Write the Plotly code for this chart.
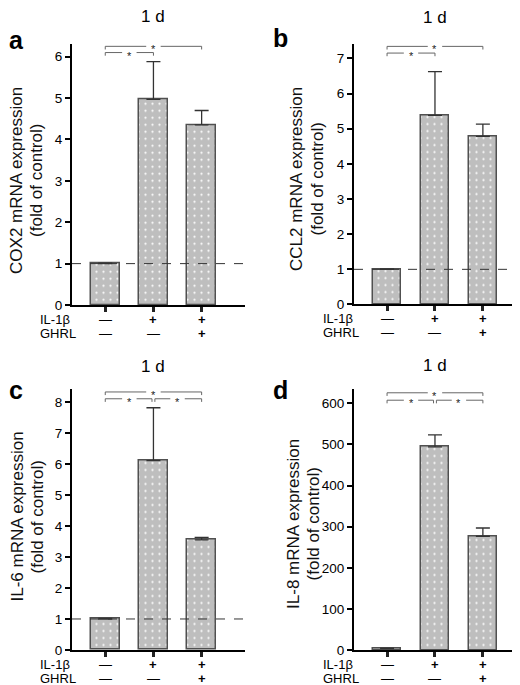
import plotly.graph_objects as go

# ---------------- data ----------------
categories = ["control", "IL-1β", "IL-1β + GHRL"]
il1b_signs = ["—", "+", "+"]
ghrl_signs = ["—", "—", "+"]

cox2_mean = [1.0, 4.97, 4.35]
cox2_err = [0.01, 0.91, 0.35]
ccl2_mean = [1.0, 5.38, 4.78]
ccl2_err = [0.01, 1.24, 0.35]
il6_mean = [1.0, 6.12, 3.56]
il6_err = [0.02, 1.71, 0.08]
il8_mean = [4.5, 494, 277]
il8_err = [1.0, 29, 20]

panel_letters = ["a", "b", "c", "d"]
panel_titles = ["1 d", "1 d", "1 d", "1 d"]
ylabels = ["COX2 mRNA expression", "CCL2 mRNA expression",
           "IL-6 mRNA expression", "IL-8 mRNA expression"]
ylabel2 = "(fold of control)"
ytick_vals = [list(range(0, 7)), list(range(0, 8)), list(range(0, 9)), list(range(0, 601, 100))]
brackets = [
    [(0, 2, 6.25), (0, 1, 6.10)],
    [(0, 2, 7.34), (0, 1, 7.15)],
    [(0, 2, 8.34), (0, 1, 8.12), (1, 2, 8.12)],
    [(0, 2, 625), (0, 1, 607), (1, 2, 607)],
]
show_ref_line = [True, True, True, False]

means = [cox2_mean, ccl2_mean, il6_mean, il8_mean]
errs = [cox2_err, ccl2_err, il6_err, il8_err]

# ---------------- layout geometry (pixels) ----------------
W, H = 520, 685
FONT = "Liberation Sans, Arial, sans-serif"
# (x_left, x_right, y_zero, y_top, y_max)
geom = [
    (64, 237, 300.5, 36.7, 6.3),
    (346, 518, 300.0, 36.0, 7.42),
    (64, 237, 649.5, 386.0, 8.42),
    (346, 518, 650.0, 386.0, 633),
]
# (x line1, x line2, y center) of the rotated label lines
ylabel_pos = [(9, 29, 175), (289, 309.5, 173), (9.5, 29.5, 515), (286, 305.5, 522)]
letter_pos = [(8, 32), (272, 30), (8, 387), (272, 387)]
title_y = [9, 10, 363, 362]
rowlab_x = [30, 313, 30, 313]

def px(x):
    return x / W

def py(y):
    return 1 - y / H

xpos = list(range(len(categories)))
fig = go.Figure()
shapes = []
annotations = []
layout = {}

for i in range(4):
    n = "" if i == 0 else str(i + 1)
    xl, xr, y0, yt, ymax = geom[i]
    xa, ya = "x" + n, "y" + n
    fig.add_trace(go.Bar(
        x=xpos, y=means[i], width=0.6,
        xaxis=xa, yaxis=ya,
        marker=dict(color="#bebebe",
                    line=dict(color="#505050", width=1.5),
                    pattern=dict(shape=".", fgcolor="white", bgcolor="#bebebe",
                                 size=7, solidity=0.08, fillmode="replace")),
        error_y=dict(type="data", symmetric=False, array=errs[i],
                     arrayminus=[0] * 3, color="#333333", thickness=1.3, width=7),
        showlegend=False, hoverinfo="skip",
    ))
    layout["xaxis" + n] = dict(
        domain=[px(xl), px(xr)], range=[-0.69, 2.9], anchor=ya,
        showline=True, linecolor="black", linewidth=2,
        ticks="outside", ticklen=5, tickwidth=2.5, tickcolor="#222",
        tickvals=xpos, showticklabels=False, showgrid=False, zeroline=False,
        fixedrange=True,
    )
    layout["yaxis" + n] = dict(
        domain=[py(y0), py(yt)], range=[0, ymax], anchor=xa,
        showline=True, linecolor="black", linewidth=2,
        ticks="outside", ticklen=5, tickwidth=1.5, tickcolor="black",
        tickvals=ytick_vals[i], tickfont=dict(family=FONT, size=13.5, color="black"),
        showgrid=False, zeroline=False, fixedrange=True,
    )
    # dashed reference line at y = 1
    if show_ref_line[i]:
        shapes.append(dict(type="line", xref=xa + " domain", yref=ya,
                           x0=0, x1=1, y0=1, y1=1,
                           line=dict(color="#333333", width=1, dash="dash")))
    # significance brackets
    drop = ymax * 0.012
    gap = 0.15
    for (b0, b1, lev) in brackets[i]:
        a0 = b0 + (0.03 if b0 == 1 else 0)
        a1 = b1 - (0.03 if (b1 == 1 and b0 == 0 and len(brackets[i]) == 3) else 0)
        mid = (b0 + b1) / 2
        col = "#666666"
        for seg in [(a0, mid - gap), (mid + gap, a1)]:
            shapes.append(dict(type="line", xref=xa, yref=ya, x0=seg[0], x1=seg[1],
                               y0=lev, y1=lev, line=dict(color=col, width=1)))
        for e in (a0, a1):
            shapes.append(dict(type="line", xref=xa, yref=ya, x0=e, x1=e,
                               y0=lev, y1=lev - drop, line=dict(color=col, width=1)))
        annotations.append(dict(x=mid, y=lev, xref=xa, yref=ya, text="*",
                                showarrow=False, yshift=-3,
                                font=dict(family=FONT, size=11, color="#222")))
    # title
    annotations.append(dict(x=1, xref=xa, y=py(title_y[i]), yref="paper",
                            text=panel_titles[i], showarrow=False, yanchor="middle",
                            font=dict(family=FONT, size=17, color="black")))
    # panel letter
    lx, ly = letter_pos[i]
    annotations.append(dict(x=px(lx), y=py(ly), xref="paper", yref="paper",
                            text="<b>" + panel_letters[i] + "</b>", showarrow=False,
                            xanchor="center", yanchor="middle",
                            font=dict(family=FONT, size=25, color="black")))
    # y label (two single-line rotated annotations)
    l1x, l2x, ty = ylabel_pos[i]
    for txt, lxp in [(ylabels[i], l1x), (ylabel2, l2x)]:
        annotations.append(dict(x=px(lxp), y=py(ty), xref="paper", yref="paper",
                                text=txt, textangle=-90,
                                showarrow=False, xanchor="center", yanchor="middle",
                                borderpad=0,
                                font=dict(family=FONT, size=17, color="#111")))
    # treatment rows
    for r, (lab, signs) in enumerate([("IL-1β", il1b_signs), ("GHRL", ghrl_signs)]):
        yy = y0 + 14.5 + r * 14
        annotations.append(dict(x=px(rowlab_x[i]), y=py(yy), xref="paper", yref="paper",
                                text=lab, showarrow=False, xanchor="left", yanchor="middle",
                                font=dict(family=FONT, size=13, color="black")))
        for k, s in enumerate(signs):
            annotations.append(dict(x=xpos[k], y=py(yy), xref=xa, yref="paper",
                                    text=("<b>+</b>" if s == "+" else s), showarrow=False,
                                    xanchor="center", yanchor="middle",
                                    font=dict(family=FONT, size=13, color="black")))

fig.update_layout(
    width=W, height=H, margin=dict(l=0, r=0, t=0, b=0),
    paper_bgcolor="white", plot_bgcolor="white",
    shapes=shapes, annotations=annotations, bargap=0,
    **layout,
)
fig.write_html("out.html")
